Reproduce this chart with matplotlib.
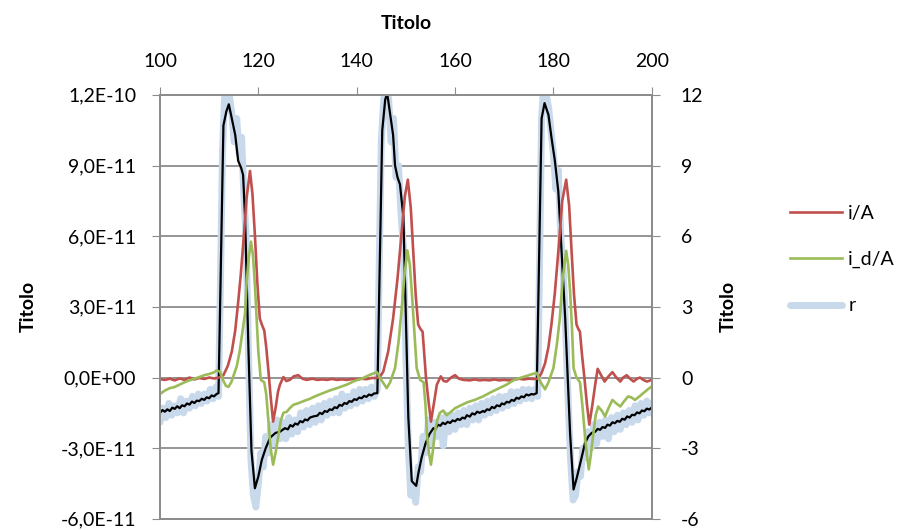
import matplotlib
matplotlib.use("Agg")
import matplotlib.pyplot as plt
from matplotlib.lines import Line2D

plt.rcParams['font.family'] = ['Lato', 'DejaVu Sans']

# i/A (left axis, in units of 1e-11 A)
i_x = [100, 101, 102, 103, 104, 105, 106, 107, 108, 109, 110, 111, 112, 112.9, 113.8, 114.6, 115.3, 115.9,
       116.4, 116.9, 117.6, 118.3, 118.8, 119.3, 119.8, 120.3, 120.8, 121.2, 121.6, 122.0, 122.5, 123.0,
       123.5, 124.0, 124.4, 125.1, 125.7, 126.4, 127.2, 128.1, 129.0, 129.8, 131, 132, 133, 134, 135, 136,
       137, 138, 139, 140, 141, 142, 143, 144.1, 144.8, 145.4, 146.4, 147.4, 148.3, 149.1, 149.8, 150.4,
       151.0, 151.5, 152.0, 152.5, 153.0, 153.4, 153.8, 154.1, 154.6, 155.1, 155.7, 156.3, 157.1, 157.7,
       158.3, 159.2, 160.0, 160.8, 161.7, 163, 164, 165, 166, 167, 168, 169, 170, 171, 172, 173, 174, 175,
       176, 176.9, 177.6, 178.3, 179.0, 179.6, 180.3, 181.0, 181.8, 182.6, 183.2, 183.7, 184.2, 184.7,
       185.1, 185.4, 185.8, 186.3, 186.8, 187.3, 187.9, 188.5, 189.0, 189.7, 190.4, 191.2, 192.0, 192.8,
       193.6, 194.2, 194.9, 195.6, 196.3, 197.0, 197.6, 198.3, 199.0, 200]
i_y = [-0.07, -0.1, -0.05, -0.12, -0.04, -0.1, 0.0, -0.08, -0.02, -0.06, 0.0, -0.04, 0.0, 0.1, 0.5, 1.1,
       2.0, 3.2, 4.3, 5.6, 7.6, 8.77, 7.8, 6.05, 4.0, 2.5, 2.2, 2.0, 1.3, 0.4, -0.8, -1.87, -1.3, -0.6,
       -0.3, 0.02, -0.15, -0.1, 0.05, 0.1, -0.05, -0.1, -0.05, -0.1, -0.08, -0.1, -0.06, -0.1, -0.08,
       -0.1, -0.07, -0.08, -0.05, -0.07, -0.02, -0.02, 0.05, 0.25, 1.1, 2.5, 4.2, 6.05, 7.7, 8.4, 7.2,
       5.35, 3.5, 2.25, 2.05, 1.95, 0.8, -0.03, -1.0, -1.87, -1.1, -0.3, 0.05, -0.15, -0.17, 0.0, 0.1,
       -0.05, -0.1, -0.12, -0.08, -0.12, -0.1, -0.12, -0.08, -0.12, -0.1, -0.12, -0.1, -0.05, -0.08,
       -0.05, -0.06, -0.05, 0.2, 0.6, 1.3, 2.25, 3.6, 5.35, 7.5, 8.4, 7.3, 5.35, 3.5, 2.25, 2.05, 1.95,
       1.0, 0.0, -1.1, -2.0, -1.2, -0.3, 0.37, 0.1, -0.17, 0.05, 0.23, 0.0, -0.17, 0.0, 0.1, -0.05,
       -0.17, -0.05, 0.0, -0.1, -0.17, -0.1]

# i_d/A (left axis, in units of 1e-11 A)
id_x = [100, 101, 102, 103, 104, 105, 106, 107, 108, 109, 110, 111, 111.5, 112.2, 112.8, 113.4, 113.9,
        114.5, 115.0, 115.6, 116.2, 116.8, 117.3, 117.6, 118.0, 118.5, 118.9, 119.3, 119.7, 120.0, 120.5,
        121.2, 121.6, 122.0, 122.5, 123.0, 123.5, 124.1, 124.6, 125.1, 125.8, 126.4, 127.1, 128.0, 129.2,
        130.5, 131.5, 133.2, 134.5, 136, 138.0, 139.5, 141, 142.5, 144.1, 145.0, 146.1, 146.8, 147.8,
        148.5, 149.1, 149.7, 150.3, 150.8, 151.2, 151.7, 152.2, 152.9, 153.6, 154.0, 154.3, 154.7, 155.1,
        155.5, 155.9, 156.4, 156.9, 157.6, 158.3, 159.2, 160.0, 161.0, 162.5, 164.0, 165.7, 167.5, 169,
        170.5, 172, 173.5, 175.3, 176.6, 177.4, 178.3, 179.0, 180.0, 180.7, 181.3, 181.9, 182.6, 183.0,
        183.4, 183.8, 184.1, 184.7, 185.4, 185.9, 186.4, 186.8, 187.2, 187.6, 188.1, 188.6, 189.1, 189.8,
        190.5, 191.2, 192.0, 192.8, 193.6, 194.4, 195.2, 195.9, 196.6, 197.5, 198.3, 199.2, 200]
id_y = [-0.7, -0.55, -0.45, -0.4, -0.3, -0.2, -0.12, -0.05, 0.02, 0.1, 0.15, 0.22, 0.3, 0.25, -0.1,
        -0.35, -0.4, -0.2, 0.1, 0.47, 1.1, 2.0, 2.73, 3.94, 5.0, 5.77, 5.2, 3.94, 2.3, 1.1, -0.1, -0.2,
        -0.7, -1.72, -3.0, -3.7, -3.2, -2.43, -1.8, -1.5, -1.45, -1.3, -1.16, -1.1, -1.0, -0.9, -0.8,
        -0.66, -0.55, -0.45, -0.3, -0.15, -0.05, 0.1, 0.23, -0.1, -0.45, -0.2, 0.4, 1.5, 2.8, 4.3, 5.4,
        4.8, 3.65, 2.0, 0.4, -0.1, -0.2, -1.2, -2.43, -3.2, -3.7, -3.1, -2.3, -1.8, -1.5, -1.4, -1.6,
        -1.45, -1.3, -1.2, -1.05, -0.95, -0.8, -0.6, -0.45, -0.3, -0.1, 0.0, 0.12, 0.2, -0.2, -0.5,
        -0.2, 0.4, 1.4, 2.5, 4.2, 5.38, 4.8, 3.65, 2.0, 0.4, 0.0, -0.2, -1.2, -2.43, -3.3, -3.9, -3.3,
        -2.43, -1.6, -1.23, -1.4, -1.65, -1.3, -0.95, -1.1, -1.23, -1.0, -0.8, -0.85, -0.95, -0.8,
        -0.66, -0.5, -0.38]

# r (right axis)
r_x = [100.0, 100.6, 101.2, 101.8, 102.4, 103.0, 103.6, 104.2, 104.8, 105.4, 106.0, 106.6, 107.2, 107.8,
       108.4, 109.0, 109.6, 110.2, 110.8, 111.4, 111.9, 112.3, 112.7, 113.1, 113.6, 114.1, 114.6, 115.1,
       115.6, 116.1, 116.6, 117.0, 117.5, 118.0, 118.5, 119.0, 119.5, 120.0, 120.5, 121.0, 121.5, 122.0,
       122.6, 123.2, 123.8, 124.4, 125.0, 125.6, 126.2, 126.8, 127.4, 128.0, 128.6, 129.2, 129.8, 130.4,
       131.0, 131.6, 132.2, 132.8, 133.4, 134.0, 134.6, 135.2, 135.8, 136.4, 137.0, 137.6, 138.2, 138.8,
       139.4, 140.0, 140.6, 141.2, 141.8, 142.4, 143.0, 143.6, 144.2, 144.6, 145.0, 145.5, 146.0, 146.5,
       147.0, 147.5, 148.0, 148.5, 149.0, 149.5, 150.0, 150.5, 151.0, 151.5, 152.0, 152.5, 153.0, 153.5,
       154.0, 154.6, 155.2, 155.8, 156.4, 157.0, 157.6, 158.2, 158.8, 159.4, 160.0, 160.6, 161.2, 161.8,
       162.4, 163.0, 163.6, 164.2, 164.8, 165.4, 166.0, 166.6, 167.2, 167.8, 168.4, 169.0, 169.6, 170.2,
       170.8, 171.4, 172.0, 172.6, 173.2, 173.8, 174.4, 175.0, 175.6, 176.2, 176.8, 177.2, 177.6, 178.0,
       178.5, 179.0, 179.5, 180.0, 180.5, 181.0, 181.5, 182.0, 182.5, 183.0, 183.5, 184.0, 184.5, 185.0,
       185.5, 186.0, 186.5, 187.0, 187.6, 188.2, 188.8, 189.4, 190.0, 190.6, 191.2, 191.8, 192.4, 193.0,
       193.6, 194.2, 194.8, 195.4, 196.0, 196.6, 197.2, 197.8, 198.4, 199.0, 199.6, 200.0]
r_y = [-1.9, -1.3, -1.7, -1.1, -1.6, -1.2, -1.5, -0.9, -1.5, -1.0, -1.3, -0.8, -1.2, -0.7, -1.1, -0.7,
       -1.0, -0.5, -0.9, -0.4, -0.8, 4.0, 9.5, 11.8, 12.4, 12.0, 11.2, 10.0, 11.0, 9.5, 10.2, 8.0, 6.0,
       1.0, -3.5, -5.0, -5.5, -4.5, -3.2, -3.8, -2.5, -3.2, -2.0, -2.8, -1.8, -2.6, -1.9, -2.6, -1.7,
       -2.4, -1.8, -2.3, -1.5, -2.1, -1.4, -2.0, -1.3, -1.9, -1.2, -1.8, -1.1, -1.6, -1.0, -1.5, -0.9,
       -1.5, -0.7, -1.3, -0.8, -1.2, -0.6, -1.1, -0.5, -1.0, -0.5, -0.9, -0.4, -0.8, -0.5, 5.0, 10.0,
       11.8, 12.4, 11.8, 10.0, 11.0, 8.5, 9.0, 7.0, 5.5, 1.0, -3.0, -5.0, -4.4, -5.3, -3.8, -4.0, -2.5,
       -3.2, -1.8, -2.8, -1.9, -2.5, -1.7, -2.9, -1.6, -2.3, -1.6, -2.2, -1.5, -2.0, -1.4, -2.0, -1.3,
       -1.8, -1.2, -1.8, -1.1, -1.6, -1.0, -1.5, -0.9, -1.4, -0.8, -1.3, -0.8, -1.2, -0.6, -1.1, -0.6,
       -1.0, -0.5, -0.9, -0.5, -0.9, -0.5, -0.8, 5.0, 11.0, 12.3, 12.0, 11.5, 10.5, 9.5, 8.0, 8.8, 6.0,
       4.5, 2.0, -1.0, -3.5, -5.2, -5.0, -4.0, -4.2, -3.0, -3.4, -2.3, -3.0, -2.0, -2.8, -1.9, -2.5,
       -1.8, -2.6, -1.7, -2.3, -1.6, -2.2, -1.5, -2.0, -1.4, -1.9, -1.2, -1.8, -1.1, -1.6, -1.0, -1.5,
       -1.1]

# unlabelled black trace (right axis)
k_x = [100, 100.5, 101, 101.5, 102, 102.5, 103, 103.5, 104, 104.5, 105, 105.5, 106, 106.5, 107, 107.5,
       108, 108.5, 109, 109.5, 110, 110.5, 111, 111.5, 111.9, 112.9, 113.5, 114.0, 114.5,
       115.3, 115.9, 116.5, 116.9, 117.3, 118.0, 118.6, 119.3, 120.0, 120.7, 121.5, 122.4, 123.5, 124.4,
       125.4, 126.0, 126.5, 127.0, 127.5, 128.0, 128.5, 129.0, 129.5, 130.0, 130.5, 131.2, 132.0, 132.5,
       133.0, 133.5, 134.0, 134.5, 135.0, 135.5, 136.0, 136.5, 137.0, 137.5, 138.0, 138.5, 139.0, 139.5,
       140.0, 140.5, 141.0, 141.5, 142.0, 142.5, 143.0, 143.5, 144.2, 145.2, 145.8, 146.2, 146.8, 147.4,
       147.8, 148.3, 148.8, 149.5, 150.5, 151.2, 152.1, 152.6, 153.2, 154.0, 154.8, 155.6, 156.0, 156.5,
       157.0, 157.5, 158.0, 158.5, 159.0, 159.5, 160.0, 160.5, 161.0, 161.5, 162.0, 162.4, 163.0, 163.5,
       164.0, 164.5, 165.0, 165.7, 166.0, 166.5, 167.0, 167.5, 168.0, 168.5, 169.1, 169.5, 170.0, 170.5,
       171.0, 171.5, 172.0, 172.5, 173.0, 173.5, 174.0, 174.5, 175.0, 175.5, 176.0, 176.6, 177.6, 178.2,
       179.0, 179.6, 180.3, 181.0, 181.7, 182.4, 183.4, 184.1, 184.7, 185.4, 186.4, 187.1, 187.8, 188.5,
       189, 189.5, 190, 190.5, 191, 191.5, 192, 192.5, 193, 193.5, 194, 194.5, 195, 195.5, 196, 196.5,
       197, 197.5, 198, 198.5, 199, 199.5, 200]
k_y = [-1.5, -1.38, -1.45, -1.35, -1.42, -1.28, -1.33, -1.22, -1.3, -1.18, -1.22, -1.1, -1.15, -1.02,
       -1.08, -0.98, -1.0, -0.9, -0.95, -0.84, -0.88, -0.76, -0.8, -0.7, -0.66, 10.7, 11.3, 11.6, 11.1,
       10.3, 9.2, 8.9, 8.6, 6.8, 1.1, -3.1, -4.7, -4.2, -3.5, -3.0, -2.55, -2.35, -2.3, -2.15, -2.2,
       -2.02, -2.08, -1.95, -2.0, -1.85, -1.9, -1.78, -1.82, -1.7, -1.65, -1.62, -1.5, -1.55, -1.42,
       -1.46, -1.35, -1.38, -1.26, -1.3, -1.16, -1.2, -1.08, -1.12, -1.0, -1.03, -0.92, -0.95, -0.85,
       -0.88, -0.78, -0.82, -0.72, -0.76, -0.68, -0.66, 10.5, 11.8, 12.07, 11.2, 10.3, 9.0, 8.5, 8.2,
       6.8, -1.7, -4.4, -4.6, -4.0, -3.4, -2.8, -2.4, -2.15, -2.2, -2.0, -2.05, -1.92, -1.98, -1.88,
       -1.93, -1.82, -1.86, -1.76, -1.8, -1.7, -1.74, -1.6, -1.66, -1.52, -1.57, -1.45, -1.5, -1.42,
       -1.46, -1.35, -1.38, -1.25, -1.3, -1.18, -1.22, -1.1, -1.14, -1.03, -1.06, -0.95, -0.99, -0.86,
       -0.9, -0.8, -0.84, -0.72, -0.76, -0.7, -0.72, -0.66, 11.0, 11.65, 11.15, 10.2, 9.2, 7.9, 5.2,
       2.5, -2.4, -4.75, -4.3, -3.7, -2.8, -2.5, -2.35, -2.3, -2.18, -2.22, -2.1, -2.14, -2.0, -2.04,
       -1.9, -1.94, -1.84, -1.88, -1.75, -1.79, -1.65, -1.7, -1.58, -1.6, -1.48, -1.52, -1.4, -1.43,
       -1.32, -1.36, -1.27]

left_ticks = [-6e-11, -3e-11, 0, 3e-11, 6e-11, 9e-11, 1.2e-10]
left_labels = ["-6,0E-11", "-3,0E-11", "0,0E+00", "3,0E-11", "6,0E-11", "9,0E-11", "1,2E-10"]
right_ticks = [-6, -3, 0, 3, 6, 9, 12]
x_ticks = [100, 120, 140, 160, 180, 200]

red = "#c0504d"
green = "#9bbb59"
blue = "#c8d9ec"
grid_c = "#8c8c8c"

fig = plt.figure(figsize=(9.09, 5.30), dpi=100)
ax = fig.add_axes([0.176, 0.021, 0.541, 0.800])
ax2 = ax.twinx()
ax.set_zorder(2)
ax2.set_zorder(1)
ax.patch.set_visible(False)
ax2.patch.set_visible(True)

ax2.plot(r_x, r_y, color=blue, lw=5, solid_capstyle="round", solid_joinstyle="round")
ax2.plot(k_x, k_y, color="black", lw=1.6)
ax.plot(i_x, [v * 1e-11 for v in i_y], color=red, lw=1.9)
ax.plot(id_x, [v * 1e-11 for v in id_y], color=green, lw=1.9)

ax.set_xlim(100, 200)
ax.set_ylim(-6e-11, 1.2e-10)
ax2.set_ylim(-6, 12)

ax.set_yticks(left_ticks, left_labels)
ax2.set_yticks(right_ticks, [str(t) for t in right_ticks])
ax.set_xticks(x_ticks)

ax2.grid(axis="y", color=grid_c, lw=1.3)
ax2.set_axisbelow(True)

ax.xaxis.tick_top()
ax.xaxis.set_label_position("top")
ax.tick_params(axis="x", top=True, bottom=False, labeltop=True, labelbottom=False,
               direction="out", length=6, color=grid_c, pad=12, labelsize=14)
ax.tick_params(axis="y", direction="out", length=6, color=grid_c, pad=11, labelsize=14)
ax2.tick_params(axis="y", direction="out", length=6, color=grid_c, pad=15, labelsize=14)

for a in (ax, ax2):
    for s in a.spines.values():
        s.set_color(grid_c)
        s.set_linewidth(1.3)

ax.set_xlabel("Titolo", fontsize=14, fontweight="bold", labelpad=17)
ax.set_ylabel("Titolo", fontsize=14, fontweight="bold", labelpad=17)
ax2.set_ylabel("Titolo", fontsize=14, fontweight="bold", labelpad=12)

handles = [Line2D([], [], color=red, lw=1.9),
           Line2D([], [], color=green, lw=1.9),
           Line2D([], [], color=blue, lw=5, solid_capstyle="round")]
fig.legend(handles, ["i/A", "i_d/A", "r"], loc="center left", bbox_to_anchor=(0.869, 0.51),
           frameon=False, fontsize=14, handlelength=2.7, handletextpad=0.3,
           labelspacing=1.5, borderpad=0, borderaxespad=0)

fig.savefig("out.png", dpi=100)
